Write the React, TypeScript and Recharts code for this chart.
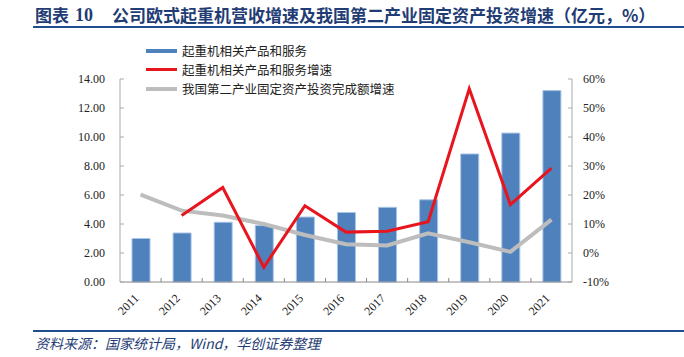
import React from 'react';
import { ComposedChart, Bar, Line, XAxis, YAxis } from 'recharts';

// 年份
const years = ['2011', '2012', '2013', '2014', '2015', '2016', '2017', '2018', '2019', '2020', '2021'];
// 起重机相关产品和服务（亿元）
const revenue = [3.0, 3.38, 4.12, 3.89, 4.48, 4.79, 5.15, 5.67, 8.83, 10.27, 13.2];
// 起重机相关产品和服务增速（%）
const revenueGrowth = [null, 12.9, 22.6, -4.9, 16.3, 7.2, 7.5, 10.8, 56.6, 16.7, 29.3];
// 我国第二产业固定资产投资完成额增速（%）
const investGrowth = [20.1, 14.6, 12.9, 10.0, 6.2, 3.0, 2.6, 6.8, 3.7, 0.4, 11.5];

const leftTicks = [0, 2, 4, 6, 8, 10, 12, 14];
const rightTicks = [-10, 0, 10, 20, 30, 40, 50, 60];

const data = years.map((year, i) => ({
  year,
  revenue: revenue[i],
  revenueGrowth: revenueGrowth[i],
  investGrowth: investGrowth[i],
}));

const BLUE = '#4F81BD';
const RED = '#E8141E';
const GRAY = '#BDBDBD';
const NAVY = '#1F3C74';
const serif = '"Liberation Serif", "Times New Roman", serif';
const cjk = '"Noto Sans CJK SC", sans-serif';

const BAND = 452 / years.length;

const XTick = ({ x, y, payload, index }: any) => {
  const tx = x - 1;
  const ty = y + 17;
  return (
    <g>
      {index < years.length - 1 && (
        <line x1={x + BAND / 2} x2={x + BAND / 2} y1={y} y2={y - 4} stroke="#888" strokeWidth={1} />
      )}
      <text
        x={tx}
        y={ty}
        transform={`rotate(-45 ${tx} ${ty})`}
        textAnchor="end"
        fontFamily={serif}
        fontSize={12}
        fill="#222"
      >
        {payload.value}
      </text>
    </g>
  );
};

const LeftTick = ({ x, y, payload }: any) => (
  <g>
    <line x1={x} x2={x + 4} y1={y} y2={y} stroke="#aaa" />
    <text x={x - 15} y={y + 4} textAnchor="end" fontFamily={serif} fontSize={12} fill="#222">
      {payload.value.toFixed(2)}
    </text>
  </g>
);

const RightTick = ({ x, y, payload }: any) => (
  <g>
    <line x1={x} x2={x - 4} y1={y} y2={y} stroke="#aaa" />
    <text x={x + 11} y={y + 4} textAnchor="start" fontFamily={serif} fontSize={12} fill="#222">
      {payload.value + '%'}
    </text>
  </g>
);

const legendItems = [
  { label: '起重机相关产品和服务', color: BLUE, h: 4 },
  { label: '起重机相关产品和服务增速', color: RED, h: 3 },
  { label: '我国第二产业固定资产投资完成额增速', color: GRAY, h: 4 },
];

export default function App() {
  const titleStyle: React.CSSProperties = {
    position: 'absolute',
    top: 5,
    fontWeight: 700,
    fontSize: 17,
    color: NAVY,
    whiteSpace: 'nowrap',
    lineHeight: '20px',
  };
  return (
    <div style={{ position: 'absolute', left: 0, top: 0, width: 684, height: 357, background: '#fff' }}>
      <div style={{ ...titleStyle, left: 35, fontFamily: cjk }}>图表</div>
      <div style={{ ...titleStyle, left: 75, fontFamily: serif, fontSize: 18 }}>10</div>
      <div style={{ ...titleStyle, left: 112, fontFamily: cjk }}>
        公司欧式起重机营收增速及我国第二产业固定资产投资增速（亿元，%）
      </div>
      <div style={{ position: 'absolute', left: 33, top: 26, width: 651, height: 2, background: '#1F4E8C' }} />

      <ComposedChart
        width={684}
        height={357}
        data={data}
        margin={{ top: 79, right: 52, bottom: 35, left: 60 }}
      >
        <XAxis
          dataKey="year"
          tick={<XTick />}
          tickLine={false}
          tickSize={0}
          tickMargin={0}
          height={40}
          interval={0}
          axisLine={{ stroke: '#888' }}
        />
        <YAxis
          yAxisId="left"
          orientation="left"
          domain={[0, 14]}
          ticks={leftTicks}
          width={60}
          tick={<LeftTick />}
          tickLine={false}
          tickSize={0}
          tickMargin={0}
          axisLine={{ stroke: '#aaa' }}
          interval={0}
        />
        <YAxis
          yAxisId="right"
          orientation="right"
          domain={[-10, 60]}
          ticks={rightTicks}
          width={60}
          tick={<RightTick />}
          tickLine={false}
          tickSize={0}
          tickMargin={0}
          axisLine={{ stroke: '#aaa' }}
          interval={0}
        />
        <Bar
          yAxisId="left"
          dataKey="revenue"
          fill={BLUE}
          stroke="#A9C4E6"
          strokeWidth={1}
          barSize={18}
          isAnimationActive={false}
        />
        <Line
          yAxisId="right"
          dataKey="investGrowth"
          stroke={GRAY}
          strokeWidth={4}
          dot={false}
          activeDot={false}
          isAnimationActive={false}
        />
        <Line
          yAxisId="right"
          dataKey="revenueGrowth"
          stroke={RED}
          strokeWidth={3}
          dot={false}
          activeDot={false}
          isAnimationActive={false}
        />
      </ComposedChart>

      <div style={{ position: 'absolute', left: 146, top: 41 }}>
        {legendItems.map((it) => (
          <div key={it.label} style={{ display: 'flex', alignItems: 'center', height: 19 }}>
            <div style={{ width: 31, height: it.h, background: it.color, marginRight: 5 }} />
            <span style={{ fontFamily: cjk, fontSize: 12.5, color: '#222', whiteSpace: 'nowrap' }}>{it.label}</span>
          </div>
        ))}
      </div>

      <div style={{ position: 'absolute', left: 33, top: 330, width: 651, height: 2, background: '#1F4E8C' }} />
      <div
        style={{
          position: 'absolute',
          left: 35,
          top: 335,
          fontFamily: cjk,
          fontStyle: 'italic',
          fontSize: 14,
          color: NAVY,
          whiteSpace: 'nowrap',
          lineHeight: '16px',
        }}
      >
        资料来源：国家统计局，Wind，华创证券整理
      </div>
    </div>
  );
}
